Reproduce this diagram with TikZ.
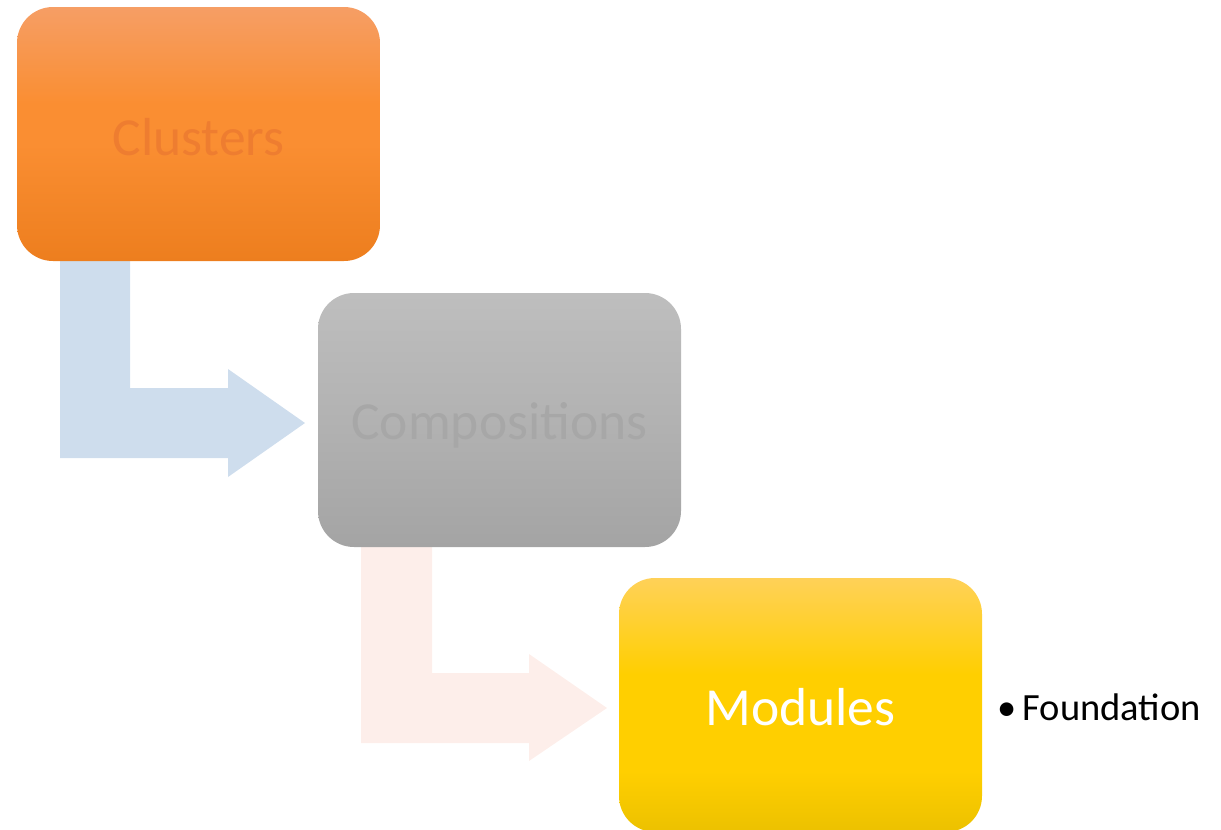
\documentclass[tikz,border=0pt]{standalone}
\usepackage{fontspec}
\setmainfont{Carlito}
\definecolor{arrowblue}{HTML}{CEDDED}
\definecolor{arrowpink}{HTML}{FDEEEA}
\definecolor{orTop}{RGB}{246,158,101}
\definecolor{orMid}{RGB}{250,142,50}
\definecolor{orBot}{RGB}{237,126,30}
\definecolor{orText}{RGB}{238,125,48}
\definecolor{grTop}{RGB}{190,190,190}
\definecolor{grMid}{RGB}{178,178,178}
\definecolor{grBot}{RGB}{164,164,164}
\definecolor{grText}{RGB}{167,167,167}
\definecolor{yeTop}{RGB}{255,209,88}
\definecolor{yeMid}{RGB}{255,207,0}
\definecolor{yeBot}{RGB}{236,193,0}
\pgfdeclareverticalshading{orshade}{100bp}{color(0bp)=(orBot); color(25bp)=(orBot);
  color(48bp)=(orMid); color(56bp)=(orMid); color(75bp)=(orTop); color(100bp)=(orTop)}
\pgfdeclareverticalshading{grshade}{100bp}{color(0bp)=(grBot); color(25bp)=(grBot);
  color(50bp)=(grMid); color(75bp)=(grTop); color(100bp)=(grTop)}
\pgfdeclareverticalshading{yeshade}{100bp}{color(0bp)=(yeBot); color(25bp)=(yeBot);
  color(37bp)=(yeMid); color(56bp)=(yeMid); color(75bp)=(yeTop); color(100bp)=(yeTop)}
\begin{document}
\begin{tikzpicture}[x=1pt,y=-1pt,
  stagebox/.style={rounded corners=36pt,minimum width=363pt,minimum height=254pt,
    inner sep=0pt},
  stagetext/.style={font=\fontsize{53.5}{60}\selectfont},
  ]
\useasboundingbox (0,0) rectangle (1221,830);
% block arrows
\fill[arrowblue] (60,261) -- (130,261) -- (130,388) -- (228,388) -- (228,369)
  -- (305,423) -- (228,477) -- (228,458) -- (60,458) -- cycle;
\fill[arrowpink] (361,547) -- (432,547) -- (432,673) -- (529,673) -- (529,654)
  -- (607,708) -- (529,761) -- (529,743) -- (361,743) -- cycle;
% boxes
\node[stagebox,shading=orshade] (clusters) at (198.5,134) {};
\node[stagebox,shading=grshade] (comp) at (499.5,420) {};
\node[stagebox,shading=yeshade] (mod) at (800.5,705) {};
\node[stagetext,text=orText] at ([yshift=-3pt]clusters.center) {Clusters};
\node[stagetext,text=grText] at ([yshift=-5pt]comp.center) {Compositions};
\node[stagetext,text=white] at ([yshift=-2pt]mod.center) {Modules};
\node[anchor=west,inner sep=0pt,font=\fontsize{38.5}{44}\selectfont] (found)
  at (997,707) {\textbullet\,Foundation};
\end{tikzpicture}
\end{document}
